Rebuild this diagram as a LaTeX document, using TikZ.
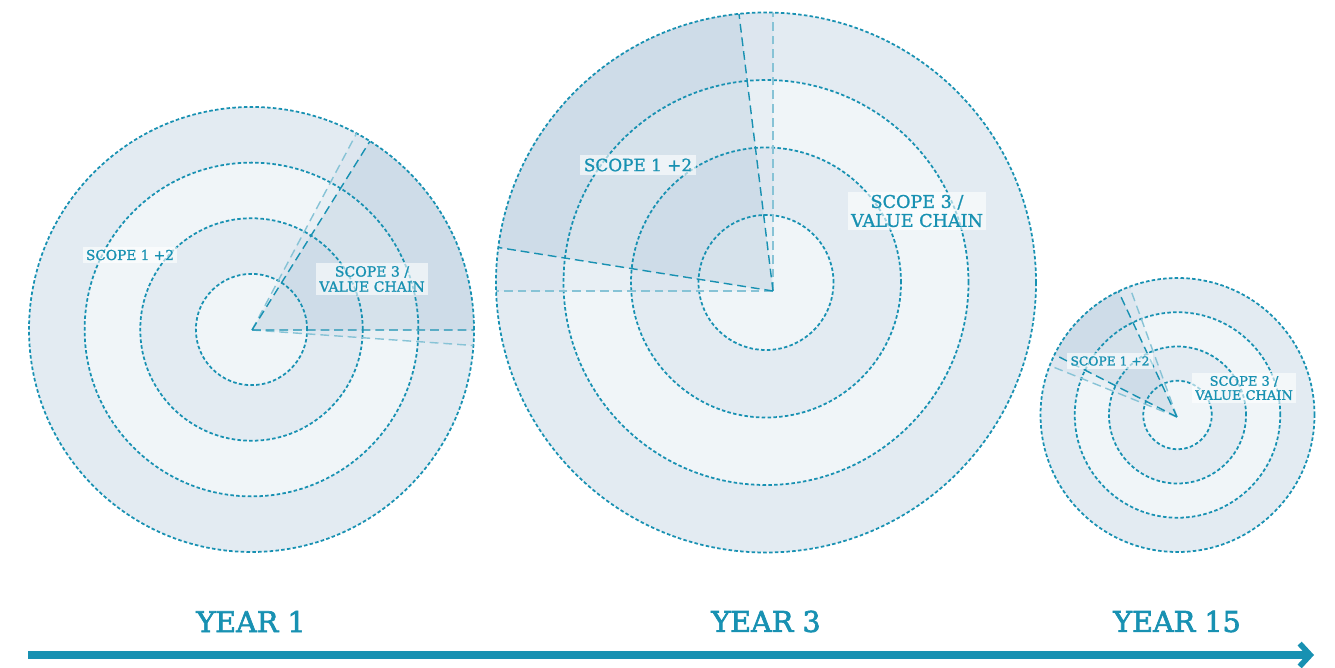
\documentclass[tikz,border=0pt]{standalone}
\usepackage{fontspec}
\setmainfont{DejaVu Serif}[FakeBold=0.9]
\newfontfamily\labelfont{DejaVu Serif}[FakeBold=1.2]
\newfontfamily\yearfont{DejaVu Serif}[FakeBold=2.2]
\usepackage{tikz}
\usetikzlibrary{arrows.meta, calc, positioning}
\definecolor{tealink}{RGB}{24,145,178}
\definecolor{tealpale}{RGB}{135,195,214}
\definecolor{ringdark}{RGB}{227,235,242}
\definecolor{ringlight}{RGB}{240,245,248}
\definecolor{wedgeblue}{RGB}{170,195,214}
\tikzset{
  ringline/.style={draw=tealink,line width=1pt,dash pattern=on 2pt off 1.3pt},
  edgedark/.style={draw=tealink,line width=0.8pt,dash pattern=on 5pt off 2.8pt},
  edgepale/.style={draw=tealpale,line width=0.8pt,dash pattern=on 5pt off 2.8pt},
  wedgedark/.style={fill=wedgeblue,fill opacity=0.28},
  wedgepale/.style={fill=wedgeblue,fill opacity=0.1},
  scopelabel/.style={fill=white,fill opacity=0.6,text opacity=1,text=tealink,align=center,inner xsep=2pt,inner ysep=1.8pt},
  yearlabel/.style={text=tealink,font=\yearfont\fontsize{16.3}{18}\selectfont},
  timeline/.style={line width=4pt,color=tealink,-{Straight Barb[length=6pt,width=13pt,line width=3.2pt]}}
}

\begin{document}
\begin{tikzpicture}[x=0.02cm,y=0.02cm]
  \useasboundingbox (0,0) rectangle (1335,667);

  %% Centres and wedge apexes
  \coordinate (c1) at (251.5,337.5);
  \coordinate (p1) at (252,337);
  \coordinate (c2) at (766,384.5);
  \coordinate (p2) at (773,376);
  \coordinate (c3) at (1177.5,252);
  \coordinate (p3) at (1177,250);

  %% Targets: radius, dark wedge angles, pale wedge angles
  \foreach \c/\r/\p/\a/\b/\s/\t in {c1/222.5/p1/0/58/-4/62, c2/270/p2/97/171/90/180, c3/137/p3/115/153/110/158}{
    \fill[ringdark]  (\c) circle [radius=\r];
    \fill[ringlight] (\c) circle [radius=0.75*\r];
    \fill[ringdark]  (\c) circle [radius=0.5*\r];
    \fill[ringlight] (\c) circle [radius=0.25*\r];
    \begin{scope}
      \clip (\c) circle [radius=\r];
      \fill[wedgepale] (\p) -- +(\s:600) -- +({(\s+\t)/2}:600) -- +(\t:600) -- cycle;
      \fill[wedgedark] (\p) -- +(\a:600) -- +({(\a+\b)/2}:600) -- +(\b:600) -- cycle;
    \end{scope}
    \foreach \k in {0.25,0.5,0.75,1}
      \draw[ringline] (\c) circle [radius=\k*\r];
    \begin{scope}
      \clip (\c) circle [radius=\r];
      \draw[edgepale] (\p) -- +(\s:600) (\p) -- +(\t:600);
      \draw[edgedark] (\p) -- +(\a:600) (\p) -- +(\b:600);
    \end{scope}
  }

  %% Scope labels
  \node[scopelabel,font=\labelfont\fontsize{7.8}{8.5}\selectfont] (sa1) at (130,412) {SCOPE 1 +2};
  \node[scopelabel,font=\labelfont\fontsize{8}{8.6}\selectfont] (sb1) at (372,388) {SCOPE 3 /\\VALUE CHAIN};
  \node[scopelabel,font=\labelfont\fontsize{9.6}{10}\selectfont] (sa2) at (638,502) {SCOPE 1 +2};
  \node[scopelabel,font=\labelfont\fontsize{10}{10.8}\selectfont] (sb2) at (917,456) {SCOPE 3 /\\VALUE CHAIN};
  \node[scopelabel,font=\labelfont\fontsize{7}{7.6}\selectfont] (sa3) at (1110,306) {SCOPE 1 +2};
  \node[scopelabel,font=\labelfont\fontsize{7.4}{8}\selectfont] (sb3) at (1244,279) {SCOPE 3 /\\VALUE CHAIN};

  %% Time axis
  \node[yearlabel] (y1) at (251,45.5) {YEAR 1};
  \node[yearlabel] (y3) at (766,45.5) {YEAR 3};
  \node[yearlabel] (y15) at (1177,45.5) {YEAR 15};
  \coordinate (t0) at (28,12);
  \coordinate (t1) at (1314,12);
  \draw[timeline] (t0) -- (t1);
\end{tikzpicture}
\end{document}
